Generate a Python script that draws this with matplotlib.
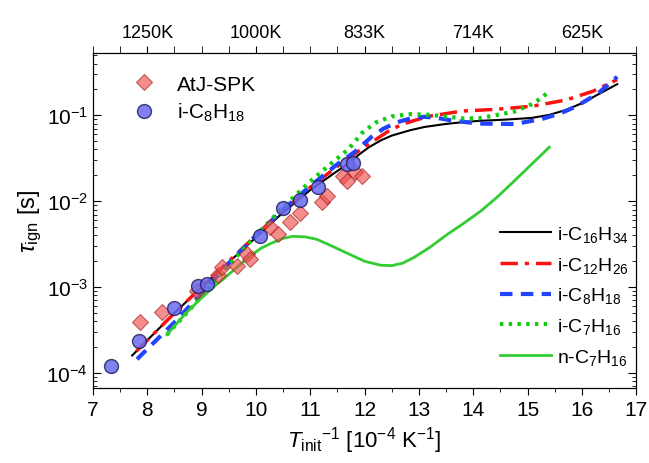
import numpy as np
import matplotlib.pyplot as plt
from matplotlib.ticker import LogLocator, FixedLocator, NullFormatter, MultipleLocator

plt.rcParams['font.family'] = ['Liberation Sans', 'DejaVu Sans']
plt.rcParams['mathtext.fontset'] = 'custom'
plt.rcParams['mathtext.rm'] = 'Liberation Sans'
plt.rcParams['mathtext.it'] = 'Liberation Sans:italic'

# measured ignition delays
atj_x = [7.87, 8.27, 8.92, 9.30, 9.37, 9.65, 9.84, 9.89, 10.26, 10.41, 10.63,
         10.81, 11.22, 11.31, 11.60, 11.68, 11.83, 11.95]
atj_y = [3.9e-4, 5.2e-4, 8.9e-4, 1.4e-3, 1.7e-3, 1.75e-3, 2.4e-3, 2.1e-3, 5.0e-3,
         4.1e-3, 5.7e-3, 7.3e-3, 9.8e-3, 1.15e-2, 1.95e-2, 1.7e-2, 2.2e-2, 1.95e-2]
ioct_x = [7.33, 7.85, 8.49, 8.93, 9.10, 10.08, 10.50, 10.81, 11.14, 11.68, 11.79]
ioct_y = [1.2e-4, 2.35e-4, 5.7e-4, 1.03e-3, 1.1e-3, 3.9e-3, 8.3e-3, 1.02e-2, 1.45e-2,
          2.7e-2, 2.8e-2]

# simulated curves
c16_x = [7.72, 8.5, 9.0, 9.5, 10.0, 10.5, 11.0, 11.5, 11.7, 11.9, 12.08, 12.3, 12.5,
         12.84, 13.1, 13.48, 13.8, 14.1, 14.6, 15.07, 15.4, 15.7, 16.0, 16.3, 16.65]
c16_y = [1.6e-4, 5.0e-4, 1.0e-3, 1.95e-3, 3.8e-3, 7.4e-3, 1.35e-2, 2.25e-2, 2.75e-2,
         0.035, 0.0425, 0.051, 0.058, 0.067, 0.073, 0.079, 0.083, 0.086, 0.089, 0.093,
         0.101, 0.115, 0.138, 0.175, 0.23]
c12_x = [7.8, 8.5, 9.0, 9.5, 10.0, 10.5, 11.0, 11.5, 11.8, 12.0, 12.2, 12.45, 12.7,
         13.17, 13.8, 14.4, 15.07, 15.7, 16.2, 16.65]
c12_y = [1.8e-4, 5.0e-4, 1.0e-3, 2.0e-3, 4.0e-3, 7.8e-3, 1.45e-2, 2.55e-2, 0.035,
         0.043, 0.052, 0.066, 0.079, 0.097, 0.112, 0.117, 0.127, 0.15, 0.19, 0.26]
c8_x = [7.81, 8.5, 9.0, 9.5, 10.0, 10.5, 11.0, 11.5, 11.83, 12.14, 12.35, 12.6, 12.85,
        13.1, 13.35, 13.6, 14.1, 14.76, 15.25, 15.6, 15.9, 16.3, 16.65]
c8_y = [1.45e-4, 3.9e-4, 8.5e-4, 1.9e-3, 4.0e-3, 8.0e-3, 1.5e-2, 2.7e-2, 0.038,
        0.057, 0.07, 0.083, 0.092, 0.096, 0.093, 0.087, 0.080, 0.079, 0.09, 0.105,
        0.127, 0.18, 0.28]
c7_x = [8.36, 9.0, 9.5, 10.0, 10.5, 11.0, 11.4, 11.7, 11.95, 12.2, 12.5, 12.84, 13.2,
        13.48, 13.8, 14.1, 14.44, 14.75, 15.07, 15.25, 15.4]
c7_y = [2.8e-4, 7.8e-4, 1.8e-3, 4.0e-3, 8.5e-3, 1.7e-2, 2.8e-2, 0.040, 0.062, 0.082,
        0.097, 0.103, 0.101, 0.097, 0.092, 0.092, 0.101, 0.11, 0.134, 0.158, 0.19]
nc7_x = [8.36, 8.7, 8.97, 9.2, 9.39, 9.65, 9.89, 10.1, 10.31, 10.5, 10.68, 10.9, 11.12,
         11.4, 11.73, 12.0, 12.29, 12.5, 12.7, 12.9, 13.2, 13.52, 13.8, 14.13, 14.43,
         14.73, 15.05, 15.4]
nc7_y = [2.8e-4, 4.9e-4, 7.2e-4, 9.8e-4, 1.23e-3, 1.7e-3, 2.3e-3, 2.85e-3, 3.3e-3,
         3.7e-3, 3.9e-3, 3.85e-3, 3.6e-3, 3.0e-3, 2.4e-3, 2.0e-3, 1.8e-3, 1.78e-3,
         1.9e-3, 2.2e-3, 2.9e-3, 4.1e-3, 5.4e-3, 7.6e-3, 1.1e-2, 1.66e-2, 2.6e-2, 4.25e-2]

top_ticks = [8, 10, 12, 14, 16]
top_labels = ['1250K', '1000K', '833K', '714K', '625K']


def main():
    fig = plt.figure(figsize=(6.49, 4.64), dpi=100)
    ax = fig.add_axes([0.1433, 0.1616, 0.837, 0.722])

    l1, = ax.plot(c16_x, c16_y, color='black', lw=1.5, label='i-C$_{16}$H$_{34}$')
    l2, = ax.plot(c12_x, c12_y, color='#ff1010', lw=2.5, ls=(0, (5, 2, 1.2, 2)),
                  label='i-C$_{12}$H$_{26}$')
    l3, = ax.plot(c8_x, c8_y, color='#2244ff', lw=3, ls=(0, (3, 2)),
                  label='i-C$_{8}$H$_{18}$')
    l4, = ax.plot(c7_x, c7_y, color='#11cc11', lw=3, ls=(0, (0.8, 1.3)),
                  label='i-C$_{7}$H$_{16}$')
    l5, = ax.plot(nc7_x, nc7_y, color='#33cc33', lw=2, label='n-C$_{7}$H$_{16}$')

    s1, = ax.plot(atj_x, atj_y, ls='none', marker='D', ms=8, mfc='#f05050',
                  mec='#a02020', mew=0.8, alpha=0.65, label='AtJ-SPK')
    s2, = ax.plot(ioct_x, ioct_y, ls='none', marker='o', ms=10, mfc='#6a6aee',
                  mec='#202060', mew=1.0, alpha=0.85, label='i-C$_{8}$H$_{18}$')

    ax.set_yscale('log')
    ax.set_xlim(7, 17)
    ax.set_ylim(6.7e-5, 0.53)

    ax.xaxis.set_major_locator(MultipleLocator(1))
    ax.xaxis.set_minor_locator(MultipleLocator(0.5))
    ax.yaxis.set_major_locator(LogLocator(base=10, numticks=10))
    ax.yaxis.set_minor_locator(LogLocator(base=10, subs=np.arange(2, 10), numticks=10))
    ax.yaxis.set_minor_formatter(NullFormatter())
    ax.tick_params(axis='x', which='major', direction='out', length=5, labelsize=15)
    ax.tick_params(axis='x', which='minor', direction='out', length=3)
    ax.tick_params(axis='y', which='major', direction='in', length=6, right=True,
                   labelsize=15)
    ax.tick_params(axis='y', which='minor', direction='in', length=3, right=True)

    top = ax.twiny()
    top.set_xlim(ax.get_xlim())
    top.xaxis.set_major_locator(FixedLocator(top_ticks))
    top.set_xticklabels(top_labels)
    top.xaxis.set_minor_locator(FixedLocator(list(np.arange(7, 17.01, 0.5))))
    top.tick_params(axis='x', which='major', direction='out', length=5, labelsize=13)
    top.tick_params(axis='x', which='minor', direction='out', length=5)

    ax.set_xlabel('$\\mathit{T}_{\\rm init}$$^{-1}$ [10$^{-4}$ K$^{-1}$]', fontsize=16,
                  labelpad=4)
    ax.set_ylabel('$\\mathit{τ}_{\\rm ign}$ [s]', fontsize=17, labelpad=2)

    leg1 = ax.legend(handles=[s1, s2], loc='upper left', bbox_to_anchor=(0.04, 0.96),
                     frameon=False, fontsize=15, handletextpad=0.6, labelspacing=0.35,
                     borderaxespad=0)
    ax.add_artist(leg1)
    ax.legend(handles=[l1, l2, l3, l4, l5], loc='lower right',
              bbox_to_anchor=(1.0, 0.04), frameon=False, fontsize=14,
              handlelength=2.6, handletextpad=0.3, labelspacing=0.55, borderaxespad=0)

    plt.savefig('out.png', dpi=100)


if __name__ == '__main__':
    main()
